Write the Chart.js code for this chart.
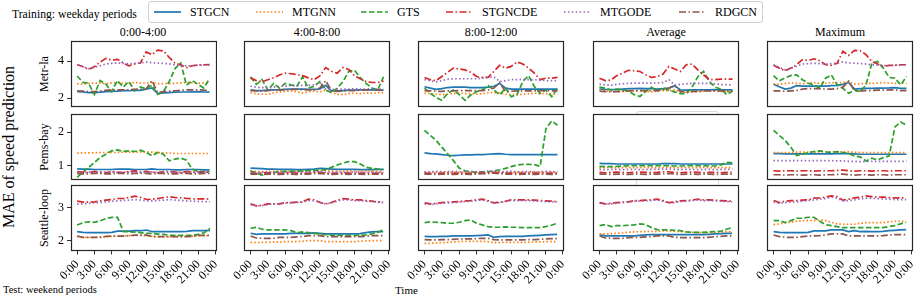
<!DOCTYPE html>
<html>
<head>
<meta charset="utf-8">
<script src="https://cdn.jsdelivr.net/npm/chart.js@4"></script>
<style>
  body { margin: 0; width: 920px; height: 298px; background: #fff; position: relative; overflow: hidden;
         font-family: "Liberation Serif", "Times New Roman", serif; color: #000; }
  .txt { position: absolute; white-space: nowrap; line-height: 1; }
  .ctr { transform: translate(-50%, -50%); }
  .rot { transform: translate(-50%, -50%) rotate(-90deg); }
  .panel { position: absolute; }
  #legend { position: absolute; left: 148px; top: 1px; width: 613px; height: 20px; border: 1px solid #d0d0d0; border-radius: 3px; background: #fff; }
  .lg { position: absolute; top: 0; height: 20px; display: flex; align-items: center; font-size: 12px; }
  .lg svg { margin-right: 9px; }
  #ghost { position: absolute; left: 636px; top: 111px; width: 81px; height: 76px; border: 1px solid #dcdcdc; border-radius: 3px; }
</style>
</head>
<body>
<div id="ghost"></div>
<div class="txt" style="left:12px;top:9px;font-size:11.7px">Training: weekday periods</div>
<div id="legend"></div>
<div class="txt rot" style="left:9px;top:147px;font-size:16px">MAE of speed prediction</div>
<div class="txt" style="left:3px;top:285px;font-size:10.5px">Test: weekend periods</div>
<div class="txt" style="left:395px;top:285px;font-size:11px">Time</div>

<script>
// categories
const hours = [0,1,2,3,4,5,6,7,8,9,10,11,12,13,14,15,16,17,18,19,20,21,22,23];
const tickHours = [0,3,6,9,12,15,18,21,24];
const tickLabels = ['0:00','3:00','6:00','9:00','12:00','15:00','18:00','21:00','0:00'];
const models = ['STGCN','MTGNN','GTS','STGNCDE','MTGODE','RDGCN'];
const columns = ['0:00-4:00','4:00-8:00','8:00-12:00','Average','Maximum'];
const rowNames = ['Metr-la','Pems-bay','Seattle-loop'];
const yTicks = [[2,4],[1,2],[2,3]];

// series values, one list per panel, in the order of `models`
const metrla_0_4 = [
  [2.35,2.33,2.3,2.3,2.32,2.35,2.37,2.38,2.4,2.4,2.42,2.42,2.48,2.55,2.25,2.28,2.3,2.32,2.33,2.33,2.34,2.35,2.33,2.32],
  [2.78,2.75,2.8,2.82,2.8,2.78,2.82,2.85,2.8,2.8,2.85,2.82,2.8,2.85,2.78,2.78,2.8,2.8,2.82,2.85,2.82,2.8,2.82,2.8],
  [3.2,2.85,2.8,2.2,2.95,2.75,2.35,2.95,2.6,2.9,2.4,2.6,2.5,2.7,2.2,2.35,2.9,3.6,3.9,2.7,2.95,2.75,2.55,3.05],
  [3.82,3.7,3.55,3.7,3.95,4.15,4.05,4.1,3.9,3.75,3.85,3.9,4.5,4.35,4.6,4.55,4.2,3.9,3.8,3.65,3.75,3.8,3.8,3.82],
  [3.8,3.7,3.6,3.68,3.75,3.85,3.88,3.9,3.88,3.85,3.88,3.9,3.95,3.92,3.9,3.88,3.85,3.8,3.78,3.75,3.75,3.78,3.78,3.78],
  [2.4,2.38,2.35,2.35,2.38,2.42,2.45,2.45,2.45,2.45,2.48,2.48,2.5,2.95,2.3,2.35,2.38,2.4,2.42,2.45,2.45,2.45,2.43,2.42]
];
const metrla_4_8 = [
  [2.45,2.42,2.42,2.44,2.45,2.46,2.48,2.5,2.5,2.5,2.48,2.48,2.5,2.7,2.4,2.4,2.42,2.44,2.44,2.45,2.45,2.45,2.44,2.44],
  [2.3,2.25,2.22,2.22,2.3,2.35,2.38,2.4,2.35,2.3,2.35,2.38,2.35,2.45,2.3,2.22,2.2,2.25,2.28,2.25,2.3,2.28,2.3,2.3],
  [3.15,2.75,3.0,2.45,2.8,2.55,2.8,2.72,2.65,3.15,2.55,2.65,2.9,2.45,2.3,2.55,2.9,3.45,3.5,3.1,2.8,2.55,2.45,3.15],
  [3.1,2.95,2.9,3.0,3.1,3.25,3.35,3.32,3.28,3.22,3.1,3.0,3.2,3.65,3.45,3.35,3.65,3.55,3.2,3.05,2.9,2.85,2.85,2.92],
  [2.65,2.6,2.58,2.55,2.6,2.65,2.65,2.68,2.68,2.7,2.7,2.72,2.85,2.5,2.48,2.5,2.5,2.5,2.52,2.5,2.5,2.52,2.5,2.5],
  [2.42,2.4,2.4,2.42,2.45,2.45,2.47,2.48,2.48,2.47,2.45,2.45,2.55,2.95,2.4,2.38,2.4,2.42,2.42,2.44,2.45,2.45,2.44,2.42]
];
const metrla_8_12 = [
  [2.62,2.55,2.48,2.52,2.58,2.6,2.6,2.6,2.58,2.58,2.58,2.6,2.65,2.8,2.55,2.5,2.5,2.5,2.5,2.5,2.5,2.5,2.5,2.5],
  [2.28,2.25,2.22,2.2,2.22,2.25,2.28,2.25,2.25,2.22,2.25,2.3,2.32,2.3,2.22,2.2,2.2,2.22,2.25,2.28,2.25,2.25,2.22,2.22],
  [2.55,2.27,2.05,1.9,2.27,2.45,2.2,1.9,2.18,2.36,2.45,2.68,2.45,2.18,2.55,2.09,2.2,2.9,3.22,2.63,2.27,2.45,2.09,2.54],
  [3.12,3.0,2.95,3.17,3.4,3.62,3.57,3.53,3.4,3.17,3.12,3.12,3.44,3.77,3.62,3.71,3.95,3.84,3.62,3.35,3.0,3.08,3.08,3.12],
  [3.0,2.95,2.88,2.95,3.02,3.05,3.05,3.05,3.05,3.05,3.08,3.12,3.15,2.9,2.95,3.0,3.0,3.02,3.0,3.0,2.98,2.95,2.95,2.94],
  [2.42,2.4,2.38,2.38,2.4,2.4,2.42,2.42,2.42,2.42,2.42,2.45,2.55,2.85,2.36,2.38,2.4,2.4,2.4,2.4,2.42,2.42,2.4,2.4]
];
const metrla_avg = [
  [2.5,2.48,2.47,2.47,2.5,2.52,2.52,2.53,2.52,2.52,2.5,2.52,2.55,2.68,2.45,2.44,2.45,2.45,2.46,2.46,2.47,2.46,2.45,2.45],
  [2.45,2.4,2.38,2.35,2.38,2.38,2.4,2.4,2.38,2.35,2.4,2.42,2.42,2.45,2.35,2.32,2.35,2.35,2.38,2.4,2.38,2.38,2.38,2.38],
  [2.6,2.55,2.45,2.5,2.45,2.4,2.2,2.1,2.38,2.6,2.4,2.58,2.42,2.35,2.25,2.25,2.6,3.15,3.45,2.9,2.6,2.5,2.2,2.4],
  [3.08,2.95,2.98,3.22,3.35,3.5,3.48,3.44,3.26,3.12,3.17,3.3,3.71,3.57,3.44,3.8,3.84,3.53,3.26,3.0,3.0,3.03,3.03,3.03],
  [2.76,2.72,2.7,2.75,2.78,2.8,2.82,2.82,2.82,2.82,2.83,2.85,3.0,2.72,2.75,2.78,2.8,2.8,2.8,2.8,2.78,2.74,2.73,2.72],
  [2.38,2.36,2.35,2.36,2.38,2.4,2.42,2.42,2.42,2.42,2.42,2.45,2.55,2.68,2.36,2.35,2.37,2.38,2.4,2.4,2.4,2.4,2.38,2.38]
];
const metrla_max = [
  [2.76,2.62,2.5,2.55,2.68,2.66,2.66,2.66,2.66,2.66,2.68,2.7,2.75,2.85,2.5,2.52,2.54,2.54,2.55,2.55,2.56,2.58,2.54,2.54],
  [2.78,2.75,2.8,2.82,2.8,2.78,2.82,2.85,2.8,2.8,2.85,2.82,2.85,2.88,2.78,2.78,2.8,2.8,2.82,2.85,2.82,2.8,2.82,2.8],
  [3.22,2.94,3.1,3.22,3.26,3.0,2.81,2.72,2.54,3.08,3.26,2.72,2.54,2.27,2.45,2.36,2.72,3.88,3.98,3.62,3.12,3.08,2.72,3.17],
  [3.77,3.62,3.48,3.62,3.8,4.07,4.02,4.12,4.02,3.8,3.77,3.88,4.52,4.3,4.57,4.55,4.34,3.98,3.84,3.71,3.77,3.77,3.8,3.8],
  [3.8,3.66,3.53,3.62,3.72,3.84,3.86,3.88,3.86,3.84,3.86,3.88,3.95,3.9,3.88,3.86,3.84,3.8,3.78,3.76,3.76,3.78,3.78,3.78],
  [2.4,2.4,2.38,2.4,2.42,2.5,2.52,2.52,2.52,2.5,2.5,2.52,2.6,2.92,2.4,2.4,2.42,2.42,2.44,2.44,2.45,2.45,2.42,2.42]
];

const pems_0_4 = [
  [0.9,0.89,0.89,0.88,0.88,0.88,0.88,0.89,0.89,0.89,0.88,0.88,0.88,0.9,0.88,0.88,0.88,0.87,0.87,0.88,0.88,0.88,0.87,0.87],
  [1.37,1.38,1.38,1.38,1.39,1.39,1.39,1.39,1.4,1.4,1.4,1.41,1.41,1.4,1.39,1.38,1.37,1.36,1.36,1.36,1.36,1.36,1.36,1.36],
  [0.64,0.8,0.94,1.09,1.24,1.34,1.44,1.47,1.42,1.44,1.42,1.46,1.39,1.29,1.39,1.34,1.14,1.19,1.22,1.16,0.89,0.82,0.82,0.82],
  [0.82,0.8,0.78,0.82,0.8,0.78,0.82,0.8,0.78,0.82,0.84,0.8,0.82,0.8,0.78,0.82,0.82,0.8,0.78,0.82,0.8,0.8,0.8,0.8],
  [0.8,0.79,0.8,0.8,0.79,0.8,0.8,0.79,0.8,0.8,0.8,0.79,0.8,0.8,0.79,0.8,0.8,0.79,0.8,0.8,0.79,0.8,0.8,0.8],
  [0.76,0.75,0.75,0.76,0.76,0.75,0.75,0.76,0.76,0.75,0.76,0.77,0.76,0.75,0.76,0.76,0.75,0.75,0.76,0.76,0.75,0.75,0.76,0.76]
];
const pems_4_8 = [
  [0.93,0.92,0.91,0.9,0.9,0.89,0.89,0.89,0.88,0.88,0.89,0.9,0.92,0.91,0.9,0.89,0.89,0.89,0.89,0.88,0.88,0.88,0.89,0.89],
  [0.84,0.83,0.82,0.83,0.83,0.84,0.83,0.82,0.83,0.84,0.84,0.83,0.84,0.85,0.84,0.83,0.83,0.84,0.84,0.83,0.83,0.84,0.83,0.83],
  [0.85,0.78,0.72,0.76,0.8,0.82,0.83,0.84,0.84,0.84,0.85,0.86,0.86,0.88,0.95,1.02,1.08,1.12,1.12,1.05,0.95,0.92,0.9,0.88],
  [0.78,0.77,0.78,0.79,0.78,0.77,0.78,0.79,0.78,0.77,0.78,0.8,0.8,0.78,0.77,0.78,0.79,0.78,0.77,0.78,0.78,0.77,0.78,0.78],
  [0.8,0.8,0.81,0.8,0.8,0.81,0.8,0.8,0.81,0.8,0.8,0.82,0.82,0.8,0.8,0.81,0.8,0.8,0.81,0.8,0.8,0.81,0.8,0.8],
  [0.75,0.75,0.74,0.75,0.75,0.74,0.75,0.75,0.74,0.75,0.75,0.76,0.77,0.75,0.74,0.75,0.75,0.74,0.75,0.75,0.74,0.75,0.75,0.75]
];
const pems_8_12 = [
  [1.38,1.36,1.35,1.33,1.31,1.3,1.31,1.32,1.32,1.33,1.33,1.34,1.35,1.36,1.34,1.33,1.33,1.33,1.33,1.33,1.33,1.33,1.33,1.33],
  [0.8,0.8,0.81,0.8,0.8,0.81,0.8,0.8,0.81,0.8,0.8,0.81,0.82,0.81,0.8,0.8,0.81,0.8,0.8,0.81,0.8,0.8,0.81,0.8],
  [2.05,1.9,1.75,1.55,1.35,1.15,0.93,0.85,0.82,0.8,0.82,0.82,0.85,0.88,0.92,0.97,1.02,1.04,1.04,1.03,0.98,2.1,2.33,2.2],
  [0.78,0.77,0.77,0.78,0.77,0.77,0.78,0.77,0.77,0.78,0.78,0.79,0.8,0.79,0.78,0.78,0.78,0.77,0.77,0.78,0.77,0.77,0.78,0.78],
  [0.82,0.82,0.83,0.82,0.82,0.83,0.82,0.82,0.83,0.82,0.82,0.84,0.84,0.83,0.82,0.83,0.82,0.82,0.83,0.82,0.82,0.83,0.82,0.82],
  [0.75,0.75,0.74,0.75,0.75,0.74,0.75,0.75,0.74,0.75,0.76,0.77,0.78,0.76,0.75,0.75,0.74,0.75,0.75,0.74,0.75,0.75,0.74,0.75]
];
const pems_avg = [
  [1.07,1.06,1.06,1.05,1.05,1.05,1.05,1.05,1.05,1.05,1.05,1.06,1.06,1.06,1.05,1.05,1.05,1.05,1.05,1.05,1.05,1.05,1.05,1.05],
  [0.94,0.94,0.95,0.94,0.94,0.95,0.94,0.94,0.95,0.94,0.94,0.95,0.95,0.94,0.94,0.95,0.94,0.94,0.95,0.94,0.94,0.95,0.94,0.94],
  [0.98,0.97,0.97,0.98,0.99,1.0,1.0,1.0,1.0,1.0,1.0,1.0,1.0,0.99,0.99,1.0,1.0,1.0,1.0,0.99,0.99,1.02,1.1,1.08],
  [0.8,0.79,0.8,0.81,0.8,0.79,0.8,0.81,0.8,0.79,0.8,0.82,0.82,0.8,0.79,0.8,0.81,0.8,0.79,0.8,0.8,0.79,0.8,0.8],
  [0.89,0.88,0.89,0.89,0.88,0.89,0.89,0.88,0.89,0.89,0.89,0.9,0.9,0.89,0.88,0.89,0.89,0.88,0.89,0.89,0.88,0.89,0.89,0.89],
  [0.75,0.75,0.74,0.75,0.75,0.74,0.75,0.75,0.74,0.75,0.75,0.76,0.77,0.75,0.74,0.75,0.75,0.74,0.75,0.75,0.74,0.75,0.75,0.75]
];
const pems_max = [
  [1.36,1.36,1.35,1.35,1.35,1.35,1.35,1.35,1.35,1.35,1.35,1.36,1.36,1.36,1.35,1.34,1.34,1.34,1.34,1.34,1.34,1.34,1.34,1.34],
  [1.39,1.39,1.39,1.39,1.4,1.4,1.4,1.4,1.41,1.41,1.41,1.41,1.41,1.41,1.4,1.39,1.39,1.39,1.39,1.39,1.39,1.39,1.39,1.39],
  [2.05,1.9,1.75,1.55,1.3,1.34,1.39,1.42,1.44,1.41,1.39,1.42,1.39,1.36,1.29,1.26,1.14,1.22,1.17,1.24,1.29,2.15,2.3,2.2],
  [0.85,0.84,0.85,0.85,0.84,0.85,0.85,0.84,0.85,0.85,0.85,0.86,0.87,0.85,0.84,0.85,0.85,0.84,0.85,0.85,0.84,0.85,0.85,0.85],
  [1.15,1.15,1.15,1.15,1.15,1.15,1.15,1.15,1.15,1.15,1.15,1.14,1.14,1.13,1.13,1.12,1.12,1.13,1.13,1.13,1.13,1.13,1.13,1.13],
  [0.73,0.73,0.72,0.73,0.73,0.72,0.73,0.73,0.72,0.73,0.73,0.74,0.75,0.73,0.72,0.73,0.73,0.72,0.73,0.73,0.72,0.73,0.73,0.73]
];

const seattle_0_4 = [
  [2.27,2.25,2.24,2.24,2.24,2.24,2.25,2.29,2.29,2.29,2.3,2.3,2.32,2.27,2.27,2.27,2.27,2.27,2.27,2.28,2.3,2.3,2.3,2.31],
  [2.12,2.1,2.1,2.1,2.11,2.12,2.13,2.14,2.14,2.15,2.16,2.16,2.15,2.13,2.12,2.12,2.12,2.12,2.12,2.13,2.14,2.15,2.15,2.15],
  [2.47,2.54,2.57,2.55,2.6,2.67,2.7,2.7,2.27,2.27,2.26,2.24,2.22,2.22,2.2,2.19,2.16,2.16,2.16,2.16,2.16,2.19,2.24,2.37],
  [3.19,3.16,3.16,3.17,3.2,3.22,3.24,3.27,3.27,3.3,3.34,3.3,3.24,3.25,3.27,3.3,3.32,3.3,3.29,3.27,3.26,3.26,3.26,3.25],
  [3.1,3.11,3.12,3.14,3.15,3.17,3.19,3.2,3.21,3.22,3.24,3.22,3.2,3.2,3.21,3.22,3.24,3.22,3.21,3.2,3.19,3.18,3.18,3.17],
  [2.14,2.1,2.1,2.1,2.1,2.13,2.14,2.14,2.14,2.15,2.17,2.17,2.17,2.12,2.12,2.12,2.12,2.12,2.12,2.12,2.13,2.16,2.16,2.16]
];
const seattle_4_8 = [
  [2.22,2.19,2.2,2.2,2.2,2.2,2.2,2.22,2.22,2.22,2.22,2.23,2.22,2.2,2.2,2.2,2.2,2.2,2.2,2.21,2.24,2.26,2.27,2.27],
  [1.95,1.94,1.95,1.95,1.96,1.96,1.97,1.97,1.97,1.98,2.0,2.0,2.0,1.97,1.97,1.97,1.97,1.97,1.97,1.98,1.99,2.0,2.0,2.0],
  [2.37,2.4,2.34,2.32,2.32,2.32,2.32,2.3,2.24,2.26,2.24,2.22,2.2,2.19,2.16,2.16,2.16,2.16,2.16,2.16,2.17,2.2,2.24,2.32],
  [3.1,3.04,3.06,3.1,3.1,3.1,3.14,3.14,3.15,3.16,3.24,3.22,3.15,3.1,3.14,3.2,3.26,3.24,3.22,3.22,3.2,3.18,3.16,3.15],
  [3.08,3.04,3.05,3.08,3.1,3.1,3.12,3.13,3.14,3.15,3.2,3.2,3.14,3.1,3.13,3.18,3.22,3.22,3.2,3.2,3.18,3.17,3.15,3.14],
  [2.14,2.08,2.07,2.07,2.07,2.1,2.1,2.1,2.11,2.12,2.15,2.15,2.15,2.12,2.12,2.12,2.12,2.12,2.12,2.12,2.13,2.15,2.15,2.15]
];
const seattle_8_12 = [
  [2.13,2.12,2.12,2.13,2.13,2.14,2.14,2.14,2.14,2.15,2.16,2.17,2.1,2.12,2.13,2.13,2.13,2.13,2.14,2.15,2.16,2.17,2.18,2.19],
  [1.92,1.92,1.93,1.94,1.95,1.96,1.97,1.98,1.98,1.98,1.98,1.97,1.94,1.94,1.95,1.95,1.95,1.95,1.95,1.96,1.96,1.97,1.97,1.97],
  [2.54,2.56,2.55,2.54,2.52,2.52,2.55,2.6,2.62,2.52,2.47,2.42,2.4,2.4,2.41,2.4,2.4,2.39,2.39,2.39,2.39,2.42,2.46,2.52],
  [3.13,3.1,3.12,3.14,3.15,3.16,3.17,3.19,3.2,3.22,3.24,3.2,3.13,3.15,3.18,3.22,3.22,3.22,3.22,3.21,3.2,3.19,3.18,3.17],
  [3.1,3.08,3.1,3.12,3.13,3.14,3.15,3.17,3.18,3.2,3.22,3.18,3.12,3.14,3.16,3.2,3.2,3.2,3.2,3.19,3.18,3.17,3.16,3.15],
  [2.03,2.02,2.02,2.03,2.03,2.04,2.05,2.05,2.05,2.06,2.07,2.07,2.03,2.02,2.02,2.02,2.02,2.02,2.03,2.03,2.04,2.05,2.06,2.06]
];
const seattle_avg = [
  [2.17,2.14,2.14,2.14,2.14,2.14,2.14,2.16,2.17,2.18,2.18,2.18,2.18,2.18,2.18,2.18,2.18,2.18,2.18,2.19,2.2,2.21,2.22,2.22],
  [2.2,2.2,2.21,2.22,2.23,2.25,2.26,2.27,2.27,2.28,2.28,2.29,2.29,2.28,2.27,2.26,2.25,2.24,2.24,2.24,2.25,2.26,2.27,2.27],
  [2.45,2.48,2.42,2.45,2.45,2.46,2.47,2.5,2.48,2.39,2.33,2.32,2.32,2.31,2.3,2.26,2.25,2.25,2.25,2.26,2.27,2.28,2.34,2.39],
  [3.14,3.1,3.12,3.14,3.15,3.16,3.2,3.2,3.21,3.22,3.24,3.2,3.14,3.16,3.19,3.2,3.21,3.24,3.22,3.22,3.21,3.2,3.19,3.18],
  [3.12,3.09,3.1,3.12,3.14,3.15,3.18,3.18,3.19,3.2,3.22,3.18,3.13,3.14,3.17,3.18,3.2,3.22,3.2,3.2,3.19,3.18,3.17,3.16],
  [2.14,2.08,2.07,2.07,2.07,2.09,2.1,2.1,2.11,2.12,2.14,2.14,2.14,2.1,2.09,2.09,2.09,2.09,2.09,2.1,2.12,2.13,2.14,2.14]
];
const seattle_max = [
  [2.27,2.25,2.24,2.24,2.24,2.24,2.25,2.29,2.29,2.29,2.32,2.32,2.32,2.27,2.3,2.27,2.28,2.27,2.27,2.28,2.3,2.31,2.32,2.33],
  [2.48,2.5,2.54,2.55,2.58,2.6,2.6,2.6,2.62,2.6,2.55,2.5,2.49,2.49,2.49,2.52,2.54,2.54,2.54,2.54,2.56,2.58,2.58,2.58],
  [2.6,2.6,2.54,2.6,2.67,2.67,2.7,2.7,2.58,2.48,2.45,2.42,2.39,2.39,2.39,2.39,2.39,2.39,2.39,2.39,2.42,2.45,2.5,2.55],
  [3.2,3.14,3.18,3.2,3.2,3.21,3.22,3.27,3.28,3.3,3.34,3.32,3.21,3.24,3.28,3.3,3.34,3.32,3.31,3.3,3.29,3.28,3.28,3.28],
  [3.15,3.12,3.14,3.15,3.16,3.18,3.2,3.22,3.24,3.26,3.3,3.27,3.19,3.2,3.22,3.25,3.27,3.27,3.26,3.25,3.24,3.23,3.23,3.23],
  [2.17,2.12,2.1,2.1,2.1,2.12,2.14,2.14,2.15,2.17,2.2,2.2,2.2,2.14,2.14,2.14,2.14,2.14,2.14,2.15,2.17,2.18,2.18,2.18]
];

const panels = [
  [metrla_0_4, metrla_4_8, metrla_8_12, metrla_avg, metrla_max],
  [pems_0_4, pems_4_8, pems_8_12, pems_avg, pems_max],
  [seattle_0_4, seattle_4_8, seattle_8_12, seattle_avg, seattle_max]
];

// styles and layout
const colors = ['#1f77b4', '#ff7f0e', '#2ca02c', '#d62728', '#9467bd', '#8c564b'];
const dashes = [[], [1.5, 2.2], [5.5, 2.5], [7, 2.5, 1.5, 2.5], [1.5, 2.4], [7, 2.5, 1.5, 2.5]];
const colLeft = [70, 244, 418, 593, 767];
const rowTop = [41, 114, 185];
const boxW = 146, boxH = 66;
const yLimits = [[1.53, 5.08], [0.57, 2.54], [1.69, 3.67]];
const FONT = '"Liberation Serif", "Times New Roman", serif';

// legend (HTML)
const legendEl = document.getElementById('legend');
const legendTextX = [190, 292, 397, 482, 600, 715];
models.forEach((m, i) => {
  const d = document.createElement('div');
  d.className = 'lg';
  d.style.left = (legendTextX[i] - 36 - 149) + 'px';
  const dash = dashes[i].length ? `stroke-dasharray="${dashes[i].join(' ')}"` : '';
  d.innerHTML = `<svg width="27" height="6"><line x1="0" y1="3" x2="27" y2="3" stroke="${colors[i]}" stroke-width="1.7" ${dash}/></svg><span>${m}</span>`;
  legendEl.appendChild(d);
});

// column titles and row labels
columns.forEach((c, j) => {
  const t = document.createElement('div');
  t.className = 'txt ctr';
  t.style.cssText = `left:${colLeft[j] + boxW / 2}px;top:32px;font-size:12px`;
  t.textContent = c;
  document.body.appendChild(t);
});
rowNames.forEach((r, i) => {
  const t = document.createElement('div');
  t.className = 'txt rot';
  t.style.cssText = `left:44px;top:${rowTop[i] + boxH / 2}px;font-size:12px`;
  t.textContent = r;
  document.body.appendChild(t);
});

// white face + dark frame around each plot area
const framePlugin = {
  id: 'frame',
  beforeDraw(chart) {
    const a = chart.chartArea, ctx = chart.ctx;
    ctx.save();
    ctx.fillStyle = '#fff';
    ctx.fillRect(a.left, a.top, a.right - a.left, a.bottom - a.top);
    ctx.restore();
  },
  afterDraw(chart) {
    const a = chart.chartArea, ctx = chart.ctx;
    ctx.save();
    ctx.strokeStyle = '#262626';
    ctx.lineWidth = 1.2;
    ctx.strokeRect(Math.round(a.left) + 0.5, Math.round(a.top) + 0.5,
                   Math.round(a.right - a.left) - 1, Math.round(a.bottom - a.top) - 1);
    ctx.restore();
  }
};

function makePanel(row, col) {
  const wrap = document.createElement('div');
  wrap.className = 'panel';
  wrap.style.left = (colLeft[col] - 40) + 'px';
  wrap.style.top = (rowTop[row] - 10) + 'px';
  wrap.style.width = (boxW + 60) + 'px';
  wrap.style.height = (boxH + 70) + 'px';
  const cv = document.createElement('canvas');
  wrap.appendChild(cv);
  document.body.appendChild(wrap);

  const series = panels[row][col];
  const datasets = models.map((m, i) => ({
    label: m,
    data: hours.map((h, k) => ({ x: h, y: series[i][k] })),
    borderColor: colors[i],
    borderDash: dashes[i],
    borderWidth: 1.7,
    pointRadius: 0,
    tension: 0,
    fill: false,
    order: models.length - i
  }));

  const chart = new Chart(cv, {
    type: 'line',
    data: { datasets },
    options: {
      animation: false,
      responsive: true,
      maintainAspectRatio: false,
      events: [],
      layout: { padding: 0 },
      plugins: { legend: { display: false }, tooltip: { enabled: false } },
      scales: {
        x: {
          type: 'linear', min: -1.15, max: 24.15,
          display: row === 2,
          afterBuildTicks: s => { s.ticks = tickHours.map(v => ({ value: v })); },
          ticks: {
            autoSkip: false, minRotation: 45, maxRotation: 45, padding: 3, color: '#000',
            font: { family: FONT, size: 12 },
            callback: v => tickLabels[tickHours.indexOf(v)]
          },
          grid: { drawOnChartArea: false, drawTicks: true, tickLength: 3.5, color: '#000', lineWidth: 0.8 },
          border: { display: false }
        },
        y: {
          min: yLimits[row][0], max: yLimits[row][1],
          display: col === 0,
          afterBuildTicks: s => { s.ticks = yTicks[row].map(v => ({ value: v })); },
          ticks: { color: '#000', padding: 3, font: { family: FONT, size: 12 } },
          grid: { drawOnChartArea: false, drawTicks: true, tickLength: 3.5, color: '#000', lineWidth: 0.8 },
          border: { display: false }
        }
      }
    },
    plugins: [framePlugin]
  });

  // shift/resize the canvas so the plot area lands on the target box
  for (let k = 0; k < 2; k++) {
    const a = chart.chartArea;
    const l = a.left, t = a.top, r = chart.width - a.right, b = chart.height - a.bottom;
    const w = Math.round(boxW + l + r), h = Math.round(boxH + t + b);
    wrap.style.left = (colLeft[col] - l) + 'px';
    wrap.style.top = (rowTop[row] - t) + 'px';
    wrap.style.width = w + 'px';
    wrap.style.height = h + 'px';
    chart.resize(w, h);
  }
}

for (let r = 0; r < 3; r++) {
  for (let c = 0; c < 5; c++) makePanel(r, c);
}
</script>
</body>
</html>
